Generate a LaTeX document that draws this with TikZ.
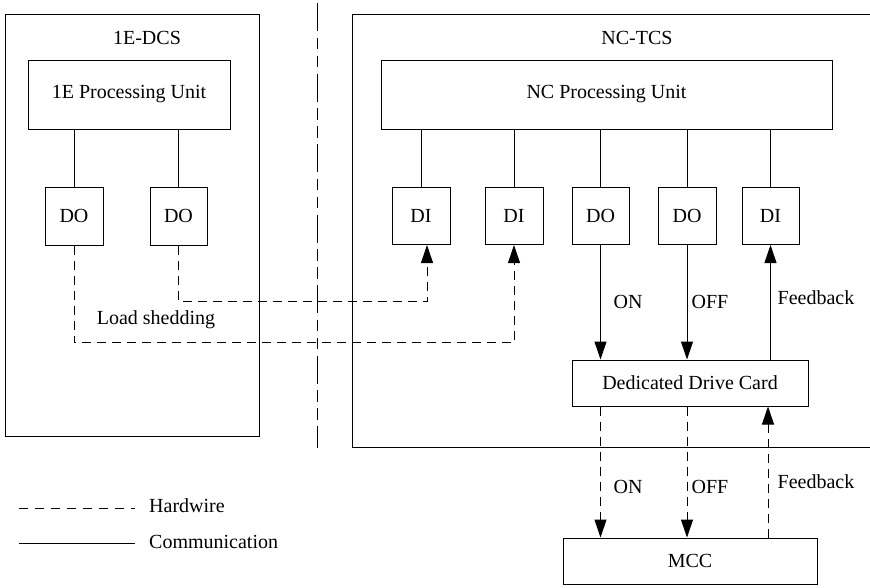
\documentclass[tikz,border=0pt]{standalone}
\usepackage{fontspec}
\setmainfont{Liberation Serif}
\usetikzlibrary{arrows.meta,calc}
\begin{document}
\begin{tikzpicture}[x=1pt,y=-1pt,
  every node/.style={font=\fontsize{20}{24}\selectfont},
  box/.style={draw,line width=1pt,inner sep=0pt,minimum width=#1},
  lbl/.style={inner sep=0pt},
  comm/.style={line width=1pt},
  hw/.style={line width=1pt,dash pattern=on 9pt off 6pt},
  arr/.style={-{Triangle[length=18pt,width=12pt]}}
]
\useasboundingbox (0,0) rectangle (870,587);
\clip (0,0) rectangle (870,587);
% outer boxes
\node[box=254pt,minimum height=422pt] (dcs) at (132,225) {};
\node[lbl] (dcsl) at (147,38) {1E-DCS};
\draw[comm] (880,14) -- (352,14) -- (352,447) -- (880,447);
\node[lbl] (tcsl) at (637,38) {NC-TCS};
% divider
\coordinate (dtop) at (317,3);
\coordinate (dbot) at (317,448);
\draw[line width=1pt,dash pattern=on 28pt off 6.5pt on 11.5pt off 6.5pt on 11.5pt off 6.5pt] (dtop) -- (dbot);
% 1E side
\node[box=202pt,minimum height=69pt] (pu1) at (129,94.5) {1E Processing Unit};
\node[box=58pt,minimum height=58pt] (do1) at (74,216) {DO};
\node[box=57pt,minimum height=58pt] (do2) at (178.5,216) {DO};
\draw[comm] (do1.north) -- (do1.north |- pu1.south);
\draw[comm] (do2.north) -- (do2.north |- pu1.south);
% NC side
\node[box=451pt,minimum height=69pt] (pu2) at (606.5,94.5) {NC Processing Unit};
\node[box=58pt,minimum height=57pt] (di1) at (421,216) {DI};
\node[box=58pt,minimum height=57pt] (di2) at (514,216) {DI};
\node[box=57pt,minimum height=57pt] (do3) at (600.5,216) {DO};
\node[box=58pt,minimum height=57pt] (do4) at (687,216) {DO};
\node[box=57pt,minimum height=57pt] (di3) at (770.5,216) {DI};
\foreach \n in {di1,di2,do3,do4,di3}
  \draw[comm] (\n.north) -- (\n.north |- pu2.south);
\node[box=236pt,minimum height=46pt] (ddc) at (690,383) {Dedicated Drive Card};
\node[box=254pt,minimum height=46pt] (mcc) at (690,561) {MCC};
% communication arrows
\draw[comm,arr] (do3.south) -- (do3.south |- ddc.north);
\draw[comm,arr] (do4.south) -- (do4.south |- ddc.north);
\draw[comm,arr] (di3.south |- ddc.north) -- (di3.south);
\node[lbl] (on1) at (628,302) {ON};
\node[lbl] (off1) at (710,302) {OFF};
\node[lbl] (fb1) at (816,298) {Feedback};
% hardwire arrows
\draw[hw,arr] (do3.south |- ddc.south) -- (do3.south |- mcc.north);
\draw[hw,arr] (do4.south |- ddc.south) -- (do4.south |- mcc.north);
\coordinate (fbm) at (768,538);
\draw[hw,arr] (fbm) -- (fbm |- ddc.south);
\node[lbl] (on2) at (628,487) {ON};
\node[lbl] (off2) at (710,487) {OFF};
\node[lbl] (fb2) at (816,482) {Feedback};
% load shedding
\draw[hw,arr] (do2.south) -- ++(0,56) -| ([xshift=6pt]di1.south);
\draw[hw,arr] (do1.south) -- ++(0,97) -| (di2.south);
\node[lbl] (ls) at (156,320) {Load shedding};
% legend
\coordinate (l1a) at (19,508); \coordinate (l1b) at (135,508);
\coordinate (l2a) at (19,543); \coordinate (l2b) at (135,543);
\draw[line width=1pt,dash pattern=on 9pt off 7pt] (l1a) -- (l1b);
\draw[comm] (l2a) -- (l2b);
\node[lbl,anchor=west] (hwl) at (149,506) {Hardwire};
\node[lbl,anchor=west] (cml) at (149,542) {Communication};
\end{tikzpicture}
\end{document}
